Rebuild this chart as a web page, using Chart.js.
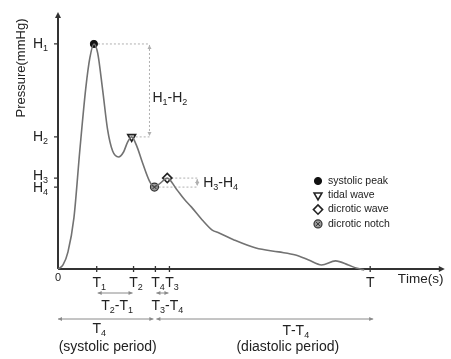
<!DOCTYPE html>
<html>
<head>
<meta charset="utf-8">
<script src="https://cdn.jsdelivr.net/npm/chart.js@4.4.1/dist/chart.umd.min.js"></script>
<style>
  html, body { margin: 0; padding: 0; background: #fff; }
  #wrap { width: 451px; height: 359px; }
</style>
</head>
<body>
<div id="wrap"><canvas id="grafico"></canvas></div>
<script>
// pulse wave (time in units of T, pressure in units of H1 = 100)
const tiempos = [0, 0.016, 0.032, 0.051, 0.070, 0.089, 0.102, 0.115, 0.127, 0.143, 0.159, 0.175, 0.194, 0.210, 0.223, 0.236,
  0.252, 0.271, 0.293, 0.309, 0.328, 0.350, 0.379, 0.404, 0.427, 0.462, 0.494, 0.516, 0.564, 0.634, 0.707, 0.761,
  0.803, 0.844, 0.889, 0.930, 0.955, 0.981];
const presiones = [0, 1.8, 7.6, 22.7, 52.9, 80.4, 93.8, 100, 96, 79.6, 61.8, 52.4, 49.8, 52, 56.4, 58.7,
  54.7, 47.1, 39.1, 36.4, 38.2, 40.4, 35.6, 31.1, 27.6, 21.8, 17.3, 16, 12.9, 9.3, 7.6, 6.2,
  4, 1.8, 3.6, 1.8, 0.4, -0.4];

// characteristic points
const puntosNombres = ['systolic peak', 'tidal wave', 'dicrotic wave', 'dicrotic notch'];
const puntosTiempo = [0.115, 0.236, 0.350, 0.309];
const puntosPresion = [100, 58.7, 40.4, 36.4];

// axis ticks
const nivelesValores = [100, 58.7, 40.4, 36.4];
const nivelesEtiquetas = ['H_1', 'H_2', 'H_3', 'H_4'];
const tiemposTicks = [0.124, 0.242, 0.312, 0.357, 1.0];
const tiemposEtiquetas = ['T_1', 'T_2', 'T_4', 'T_3', 'T'];

const FUENTE = "'Liberation Sans', Arial, sans-serif";
const TEXTO = '#222';

const estilos = [
  { pointStyle: 'circle', radius: 3.6, backgroundColor: '#111', borderColor: '#111', borderWidth: 1 },
  { pointStyle: 'triangle', rotation: 180, radius: 4.5, backgroundColor: '#fff', borderColor: '#222', borderWidth: 1.6 },
  { pointStyle: 'rectRot', radius: 4.6, backgroundColor: '#fff', borderColor: '#222', borderWidth: 1.6 },
  { pointStyle: 'circle', radius: 4, backgroundColor: '#9a9a9a', borderColor: '#333', borderWidth: 1.2 }
];

// text with subscripts: "H_1" -> H + subscript 1
function textoSub(ctx, label, x, y, align, size) {
  const partes = [];
  for (let i = 0; i < label.length; i++) {
    if (label[i] === '_' && i + 1 < label.length) { partes.push({ t: label[i + 1], sub: true }); i++; }
    else partes.push({ t: label[i], sub: false });
  }
  const subSize = Math.round(size * 0.66);
  let ancho = 0;
  partes.forEach(p => {
    ctx.font = (p.sub ? subSize : size) + 'px ' + FUENTE;
    p.w = ctx.measureText(p.t).width;
    ancho += p.w;
  });
  let x0 = x;
  if (align === 'right') x0 = x - ancho;
  else if (align === 'center') x0 = x - ancho / 2;
  else if (align === 'first') x0 = x - partes[0].w / 2;
  ctx.textAlign = 'left';
  ctx.textBaseline = 'middle';
  ctx.fillStyle = TEXTO;
  partes.forEach(p => {
    ctx.font = (p.sub ? subSize : size) + 'px ' + FUENTE;
    ctx.fillText(p.t, x0, p.sub ? y + size * 0.32 : y);
    x0 += p.w;
  });
}

function punta(ctx, x, y, ang, len, ancho) {
  ctx.save();
  ctx.translate(x, y);
  ctx.rotate(ang);
  ctx.beginPath();
  ctx.moveTo(0, 0);
  ctx.lineTo(-len, -ancho);
  ctx.lineTo(-len, ancho);
  ctx.closePath();
  ctx.fill();
  ctx.restore();
}

function flechaDoble(ctx, x1, y1, x2, y2, color, dash) {
  ctx.save();
  ctx.strokeStyle = color;
  ctx.fillStyle = color;
  ctx.lineWidth = 1;
  if (dash) ctx.setLineDash(dash);
  ctx.beginPath();
  ctx.moveTo(x1, y1);
  ctx.lineTo(x2, y2);
  ctx.stroke();
  ctx.setLineDash([]);
  const ang = Math.atan2(y2 - y1, x2 - x1);
  punta(ctx, x2, y2, ang, 4, 2);
  punta(ctx, x1, y1, ang + Math.PI, 4, 2);
  ctx.restore();
}

function lineaPunteada(ctx, x1, y1, x2, y2) {
  ctx.save();
  ctx.strokeStyle = '#b0b0b0';
  ctx.lineWidth = 1;
  ctx.setLineDash([2, 2]);
  ctx.beginPath();
  ctx.moveTo(x1, y1);
  ctx.lineTo(x2, y2);
  ctx.stroke();
  ctx.restore();
}

function marcador(ctx, est, px, py) {
  ctx.save();
  ctx.fillStyle = est.backgroundColor;
  ctx.strokeStyle = est.borderColor;
  ctx.lineWidth = est.borderWidth;
  Chart.helpers.drawPoint(ctx, est, px, py);
  ctx.restore();
}

function cruz(ctx, px, py) {
  ctx.save();
  ctx.strokeStyle = '#333';
  ctx.lineWidth = 1;
  Chart.helpers.drawPoint(ctx, { pointStyle: 'crossRot', radius: 3, borderWidth: 1 }, px, py);
  ctx.restore();
}

const diagrama = {
  id: 'diagrama',
  beforeDatasetsDraw(chart) {
    const { ctx, chartArea: a, scales: { x, y } } = chart;
    const x0 = x.getPixelForValue(0), y0 = y.getPixelForValue(0);

    // H1-H2 annotation
    const xa = x.getPixelForValue(0.293);
    lineaPunteada(ctx, x.getPixelForValue(puntosTiempo[0]) + 4, y.getPixelForValue(puntosPresion[0]), xa, y.getPixelForValue(puntosPresion[0]));
    lineaPunteada(ctx, x.getPixelForValue(puntosTiempo[1]) + 4, y.getPixelForValue(puntosPresion[1]), xa, y.getPixelForValue(puntosPresion[1]));
    flechaDoble(ctx, xa, y.getPixelForValue(puntosPresion[0]) + 1, xa, y.getPixelForValue(puntosPresion[1]) - 1, '#b0b0b0', [2, 2]);

    // H3-H4 annotation
    const xb = x.getPixelForValue(0.446);
    lineaPunteada(ctx, x.getPixelForValue(puntosTiempo[2]) + 4, y.getPixelForValue(puntosPresion[2]), xb, y.getPixelForValue(puntosPresion[2]));
    lineaPunteada(ctx, x.getPixelForValue(puntosTiempo[3]) + 4, y.getPixelForValue(puntosPresion[3]), xb, y.getPixelForValue(puntosPresion[3]));
    flechaDoble(ctx, xb, y.getPixelForValue(puntosPresion[2]) + 1, xb, y.getPixelForValue(puntosPresion[3]) - 1, '#b0b0b0', [2, 2]);

    // axes
    ctx.save();
    ctx.strokeStyle = '#333';
    ctx.fillStyle = '#333';
    ctx.lineWidth = 2;
    ctx.beginPath();
    ctx.moveTo(x0, y0);
    ctx.lineTo(x0, a.top + 3);
    ctx.moveTo(x0, y0);
    ctx.lineTo(a.right - 3, y0);
    ctx.stroke();
    punta(ctx, x0, a.top, -Math.PI / 2, 6, 3);
    punta(ctx, a.right, y0, 0, 6, 3);

    ctx.lineWidth = 1.3;
    ctx.beginPath();
    nivelesValores.forEach(v => {
      const py = y.getPixelForValue(v);
      ctx.moveTo(x0 - 4, py);
      ctx.lineTo(x0, py);
    });
    tiemposTicks.forEach(t => {
      const px = x.getPixelForValue(t);
      ctx.moveTo(px, y0 - 3);
      ctx.lineTo(px, y0 + 3);
    });
    ctx.stroke();
    ctx.restore();
  },
  afterDatasetsDraw(chart) {
    const { ctx, chartArea: a, scales: { x, y } } = chart;
    const x0 = x.getPixelForValue(0), y0 = y.getPixelForValue(0);

    // y tick labels
    nivelesValores.forEach((v, i) => {
      const py = y.getPixelForValue(v);
      const dy = i === 2 ? -2 : (i === 3 ? 1 : 0);
      textoSub(ctx, nivelesEtiquetas[i], x0 - 10, py + dy, 'right', 14);
    });
    // x tick labels
    textoSub(ctx, '0', x0, y0 + 9, 'center', 11);
    tiemposTicks.forEach((t, i) => {
      textoSub(ctx, tiemposEtiquetas[i], x.getPixelForValue(t), y0 + 14, 'first', 14);
    });

    // axis titles
    ctx.save();
    ctx.translate(21, 68);
    ctx.rotate(-Math.PI / 2);
    ctx.font = '13px ' + FUENTE;
    ctx.fillStyle = TEXTO;
    ctx.textAlign = 'center';
    ctx.textBaseline = 'middle';
    ctx.fillText('Pressure(mmHg)', 0, 0);
    ctx.restore();
    textoSub(ctx, 'Time(s)', a.right - 47, y0 + 10, 'left', 13.5);

    // difference labels
    textoSub(ctx, 'H_1-H_2', x.getPixelForValue(0.293) + 3, y.getPixelForValue(76), 'left', 14);
    textoSub(ctx, 'H_3-H_4', x.getPixelForValue(0.446) + 6, y.getPixelForValue(38.2), 'left', 14);

    // timing arrows below the axis
    const gris = '#8a8a8a';
    const t1 = x.getPixelForValue(tiemposTicks[0]), t2 = x.getPixelForValue(tiemposTicks[1]);
    const t4 = x.getPixelForValue(tiemposTicks[2]), t3 = x.getPixelForValue(tiemposTicks[3]);
    const tt = x.getPixelForValue(tiemposTicks[4]);
    flechaDoble(ctx, t1 + 1, y0 + 24, t2 - 1, y0 + 24, gris);
    flechaDoble(ctx, t4 + 1, y0 + 24, t3 - 1, y0 + 24, gris);
    textoSub(ctx, 'T_2-T_1', (t1 + t2) / 2 + 2, y0 + 37, 'center', 14);
    textoSub(ctx, 'T_3-T_4', (t4 + t3) / 2 + 5, y0 + 37, 'center', 14);

    flechaDoble(ctx, x0, y0 + 50, t4 - 2, y0 + 50, gris);
    flechaDoble(ctx, t4 + 1, y0 + 50, tt + 3, y0 + 50, gris);
    textoSub(ctx, 'T_4', t1, y0 + 60, 'first', 14);
    textoSub(ctx, '(systolic period)', (x0 + t4) / 2 + 1, y0 + 78, 'center', 14);
    textoSub(ctx, 'T-T_4', (t4 + tt) / 2 + 33, y0 + 62, 'center', 14);
    textoSub(ctx, '(diastolic period)', (t4 + tt) / 2 + 25, y0 + 78, 'center', 14);

    // legend
    puntosNombres.forEach((n, i) => {
      const ly = 181 + i * 14.3;
      marcador(ctx, estilos[i], 318, ly);
      if (i === 3) cruz(ctx, 318, ly);
      textoSub(ctx, n, 328, ly, 'left', 10.5);
    });

    // cross on the notch marker
    cruz(ctx, x.getPixelForValue(puntosTiempo[3]), y.getPixelForValue(puntosPresion[3]));
  }
};

const datosCurva = tiempos.map((t, i) => ({ x: t, y: presiones[i] }));
const datasetsPuntos = puntosNombres.map((n, i) => ({
  label: n,
  data: [{ x: puntosTiempo[i], y: puntosPresion[i] }],
  showLine: false,
  pointStyle: estilos[i].pointStyle,
  pointRotation: estilos[i].rotation || 0,
  pointRadius: estilos[i].radius,
  pointBackgroundColor: estilos[i].backgroundColor,
  pointBorderColor: estilos[i].borderColor,
  pointBorderWidth: estilos[i].borderWidth,
  clip: false
}));

const grafico = new Chart(document.getElementById('grafico').getContext('2d'), {
  type: 'line',
  data: {
    datasets: [{
      label: 'pulse',
      data: datosCurva,
      borderColor: '#727272',
      borderWidth: 1.6,
      pointRadius: 0,
      cubicInterpolationMode: 'monotone',
      fill: false,
      clip: false
    }, ...datasetsPuntos]
  },
  options: {
    responsive: true,
    maintainAspectRatio: false,
    animation: false,
    layout: { padding: { left: 58, right: 4, top: 12, bottom: 90 } },
    plugins: { legend: { display: false }, tooltip: { enabled: false } },
    scales: {
      x: { type: 'linear', min: 0, max: 1.239, display: false },
      y: { type: 'linear', min: 0, max: 114.2, display: false }
    }
  },
  plugins: [diagrama]
});
</script>
</body>
</html>
